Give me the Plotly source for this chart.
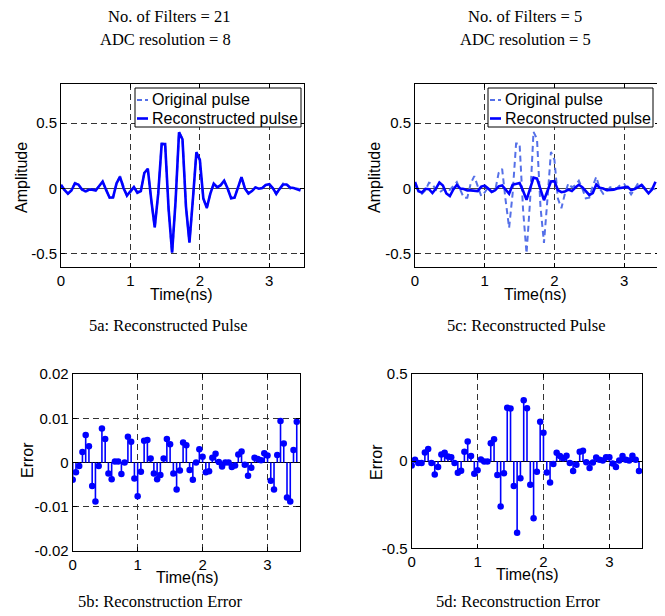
import plotly.graph_objects as go

# ---------------- data ----------------
time_ns = [0.0, 0.05, 0.1, 0.15, 0.2, 0.25, 0.3, 0.35, 0.4, 0.45,
           0.5, 0.55, 0.6, 0.65, 0.7, 0.75, 0.8, 0.85, 0.9, 0.95,
           1.0, 1.05, 1.1, 1.15, 1.2, 1.25, 1.3, 1.35, 1.4, 1.45,
           1.5, 1.55, 1.6, 1.65, 1.7, 1.75, 1.8, 1.85, 1.9, 1.95,
           2.0, 2.05, 2.1, 2.15, 2.2, 2.25, 2.3, 2.35, 2.4, 2.45,
           2.5, 2.55, 2.6, 2.65, 2.7, 2.75, 2.8, 2.85, 2.9, 2.95,
           3.0, 3.05, 3.1, 3.15, 3.2, 3.25, 3.3, 3.35, 3.4, 3.45]

original_pulse = [0.025, -0.013, -0.04, -0.013, 0.045, 0.035, -0.01, -0.03, -0.01, 0.0,
                  -0.01, 0.02, 0.05, -0.01, -0.07, -0.07, 0.04, 0.095, 0.01, -0.058,
                  -0.03, 0.01, -0.027, -0.015, 0.12, 0.15, -0.09, -0.30, -0.04, 0.345,
                  0.345, -0.16, -0.497, -0.10, 0.434, 0.38, -0.14, -0.416, -0.08, 0.28,
                  0.22, -0.077, -0.15, -0.04, 0.04, 0.01, 0.025, 0.06, 0.0, -0.075,
                  -0.07, 0.02, 0.09, 0.0, -0.04, -0.02, 0.01, 0.0, 0.005, 0.03,
                  0.035, 0.0, -0.045, 0.0, 0.04, 0.035, 0.0, -0.005, 0.0, -0.005]

recon_21 = [0.029, -0.011, -0.039, -0.015, 0.039, 0.031, -0.005, -0.021, -0.009, -0.008,
            -0.015, 0.022, 0.054, -0.01, -0.07, -0.067, 0.04, 0.089, 0.005, -0.054,
            -0.022, 0.012, -0.032, -0.02, 0.119, 0.152, -0.086, -0.297, -0.041, 0.34,
            0.341, -0.157, -0.491, -0.098, 0.43, 0.376, -0.138, -0.412, -0.08, 0.277,
            0.219, -0.075, -0.148, -0.041, 0.038, 0.01, 0.026, 0.06, 0.0, -0.074,
            -0.069, 0.018, 0.087, 0.0, -0.037, -0.019, 0.009, -0.001, 0.004, 0.028,
            0.033, 0.004, -0.039, -0.002, 0.031, 0.031, 0.008, 0.004, -0.003, -0.014]

recon_5 = [0.05, -0.02, -0.03, -0.002, -0.005, -0.034, 0.0, 0.046, 0.024, -0.038,
           -0.058, -0.007, 0.027, 0.0, -0.003, -0.015, -0.014, -0.018, -0.019, 0.015,
           0.022, 0.0, -0.025, -0.013, 0.017, 0.024, -0.01, -0.04, 0.029, 0.039,
           0.043, -0.017, -0.086, -0.002, 0.084, 0.076, -0.004, -0.089, -0.019, 0.054,
           0.057, -0.012, -0.028, -0.023, -0.008, -0.019, 0.008, 0.029, 0.011, -0.018,
           -0.049, -0.034, 0.031, 0.006, 0.0, -0.012, -0.011, -0.008, 0.001, 0.007,
           0.012, 0.013, -0.012, -0.004, 0.011, 0.027, -0.004, -0.036, -0.008, 0.052]

error_21 = [-0.0039, -0.0022, -0.0008, 0.0024, 0.0062, 0.0037, -0.0053, -0.0088, -0.0008, 0.0077,
            0.0053, -0.0025, -0.0038, 0.0002, 0.0002, -0.0026, 0.0, 0.0058, 0.0047, -0.0036,
            -0.0076, -0.0021, 0.0049, 0.0051, 0.0009, -0.0025, -0.0038, -0.0028, 0.0009, 0.0053,
            0.0041, -0.0025, -0.0061, -0.0018, 0.0045, 0.0039, -0.0017, -0.0039, 0.0, 0.003,
            0.0013, -0.0022, -0.002, 0.0011, 0.002, 0.0001, -0.0009, 0.0, 0.0, -0.001,
            -0.0007, 0.0018, 0.0025, -0.0005, -0.003, -0.0012, 0.0011, 0.0008, 0.0005, 0.0021,
            0.0016, -0.0041, -0.0061, 0.0017, 0.0094, 0.0043, -0.0079, -0.0088, 0.0028, 0.0092]

error_5 = [-0.025, 0.008, -0.011, -0.011, 0.05, 0.069, -0.011, -0.076, -0.034, 0.038,
           0.048, 0.027, 0.023, -0.01, -0.067, -0.055, 0.054, 0.113, 0.029, -0.073,
           -0.052, 0.01, -0.002, -0.002, 0.103, 0.126, -0.08, -0.26, -0.069, 0.306,
           0.302, -0.143, -0.411, -0.098, 0.35, 0.304, -0.136, -0.327, -0.061, 0.226,
           0.163, -0.065, -0.122, -0.017, 0.048, 0.029, 0.017, 0.031, -0.011, -0.057,
           -0.021, 0.054, 0.059, -0.006, -0.04, -0.008, 0.021, 0.008, 0.004, 0.023,
           0.023, -0.013, -0.033, 0.004, 0.029, 0.008, 0.004, 0.031, 0.008, -0.057]

x_ticks = [0, 1, 2, 3]
x_ticktext = ["0", "1", "2", "3"]
amp_ticks = [-0.5, 0, 0.5]
amp_ticktext = ["-0.5", "0", "0.5"]
err21_ticks = [-0.02, -0.01, 0, 0.01, 0.02]
err21_ticktext = ["-0.02", "-0.01", "0", "0.01", "0.02"]
err5_ticks = [-0.5, 0, 0.5]
err5_ticktext = ["-0.5", "0", "0.5"]

legend_labels = ["Original pulse", "Reconstructed pulse"]
headers = [["No. of Filters = 21", "ADC resolution = 8"],
           ["No. of Filters = 5", "ADC resolution = 5"]]
captions = ["5a: Reconstructed Pulse", "5c: Reconstructed Pulse",
            "5b: Reconstruction Error", "5d: Reconstruction Error"]

# ---------------- styling ----------------
# The page body has an 8px margin, so the figure is drawn 8px smaller and all
# reference pixel positions are shifted by that offset.
OFF = 8
W, H = 665 - OFF, 616 - OFF
BLUE = "#0000ff"
ORIG = "#5570e8"
SANS = "Arial, Liberation Sans, sans-serif"
SERIF = "Times New Roman, Liberation Serif, serif"


def fx(p):
    return (p - OFF) / W


def fy(p):
    return 1 - (p - OFF) / H


def stem_bars(vals):
    up = [max(-v, 0) for v in vals]
    down = [max(v, 0) for v in vals]
    return up, down


fig = go.Figure()

# 5a
fig.add_trace(go.Scatter(x=time_ns, y=original_pulse, mode="lines",
                         line=dict(color=ORIG, width=2, dash="6px,4px"),
                         xaxis="x", yaxis="y", showlegend=False))
fig.add_trace(go.Scatter(x=time_ns, y=recon_21, mode="lines",
                         line=dict(color=BLUE, width=2.6),
                         xaxis="x", yaxis="y", showlegend=False))
# 5c
fig.add_trace(go.Scatter(x=time_ns, y=original_pulse, mode="lines",
                         line=dict(color=ORIG, width=2, dash="6px,4px"),
                         xaxis="x2", yaxis="y2", showlegend=False))
fig.add_trace(go.Scatter(x=time_ns, y=recon_5, mode="lines",
                         line=dict(color=BLUE, width=2.6),
                         xaxis="x2", yaxis="y2", showlegend=False))
# 5b / 5d stems
for vals, xa, ya in [(error_21, "x3", "y3"), (error_5, "x4", "y4")]:
    up, down = stem_bars(vals)
    fig.add_trace(go.Scatter(
        x=time_ns, y=vals, mode="markers",
        marker=dict(color=BLUE, size=6.5),
        error_y=dict(type="data", symmetric=False, array=up, arrayminus=down,
                     width=0, thickness=1.6, color=BLUE),
        xaxis=xa, yaxis=ya, showlegend=False))

base_axis = dict(showline=True, linecolor="black", linewidth=1, mirror="ticks",
                 ticks="inside", ticklen=4, tickcolor="black", automargin=False,
                 showgrid=True, gridcolor="#333333", griddash="6px,4px", gridwidth=1,
                 tickfont=dict(family=SANS, size=15, color="black"))


def xax(dom, anchor):
    return dict(base_axis, domain=[fx(dom[0]), fx(dom[1])], range=[0, 3.5],
                tickmode="array", tickvals=x_ticks, ticktext=x_ticktext,
                zeroline=False, anchor=anchor)


def yax(dom, rng, tv, tt, anchor, zc):
    return dict(base_axis, domain=[fy(dom[1]), fy(dom[0])], range=rng,
                tickmode="array", tickvals=tv, ticktext=tt, anchor=anchor,
                zeroline=True, zerolinecolor=zc, zerolinewidth=1)


fig.update_layout(
    width=W, height=H, autosize=False,
    margin=dict(l=0, r=0, t=0, b=0, autoexpand=False),
    paper_bgcolor="white", plot_bgcolor="white",
    xaxis=xax((61, 304), "y"),
    yaxis=yax((84, 267), [-0.6, 0.8], amp_ticks, amp_ticktext, "x", "#444444"),
    xaxis2=xax((415, 659), "y2"),
    yaxis2=yax((84, 267), [-0.6, 0.8], amp_ticks, amp_ticktext, "x2", "#444444"),
    xaxis3=xax((72.7, 300), "y3"),
    yaxis3=yax((374, 551), [-0.02, 0.02], err21_ticks, err21_ticktext, "x3", "black"),
    xaxis4=xax((411.7, 642.3), "y4"),
    yaxis4=yax((374, 548.3), [-0.5, 0.5], err5_ticks, err5_ticktext, "x4", "black"),
)

ann = []
shapes = []


def text(x, y, s, size, family, xanchor="center", angle=0):
    ann.append(dict(x=fx(x), y=fy(y), xref="paper", yref="paper", text=s,
                    showarrow=False, xanchor=xanchor, yanchor="middle",
                    textangle=angle,
                    font=dict(family=family, size=size, color="black")))


# headers
text(169, 16, headers[0][0], 16.5, SERIF)
text(165, 39, headers[0][1], 16.5, SERIF)
text(525, 16, headers[1][0], 16.5, SERIF)
text(525, 39, headers[1][1], 16.5, SERIF)
# captions
text(168, 325, captions[0], 16.5, SERIF)
text(526, 325, captions[1], 16.5, SERIF)
text(160, 601, captions[2], 16.5, SERIF)
text(518, 601, captions[3], 16.5, SERIF)
# axis titles
text(181, 294, "Time(ns)", 16, SANS)
text(535, 294, "Time(ns)", 16, SANS)
text(187, 577, "Time(ns)", 16, SANS)
text(527, 574, "Time(ns)", 16, SANS)
text(22, 178, "Amplitude", 16, SANS, angle=-90)
text(375, 178, "Amplitude", 16, SANS, angle=-90)
text(27, 460, "Error", 16, SANS, angle=-90)
text(376, 462, "Error", 16, SANS, angle=-90)

# manual legends
for x0, x1 in [(135, 301), (488, 653)]:
    shapes.append(dict(type="rect", xref="paper", yref="paper",
                       x0=fx(x0), x1=fx(x1), y0=fy(127), y1=fy(88),
                       line=dict(color="black", width=1), fillcolor="white"))
    shapes.append(dict(type="line", xref="paper", yref="paper",
                       x0=fx(x0 + 2), x1=fx(x0 + 13), y0=fy(100), y1=fy(100),
                       line=dict(color=ORIG, width=2, dash="5px,3px")))
    shapes.append(dict(type="line", xref="paper", yref="paper",
                       x0=fx(x0 + 2), x1=fx(x0 + 13), y0=fy(118.5), y1=fy(118.5),
                       line=dict(color=BLUE, width=2.6)))
    text(x0 + 15, 100, legend_labels[0], 16, SANS, xanchor="left")
    text(x0 + 15, 118.5, legend_labels[1], 16, SANS, xanchor="left")

fig.update_layout(annotations=ann, shapes=shapes)
fig.write_html("out.html")
